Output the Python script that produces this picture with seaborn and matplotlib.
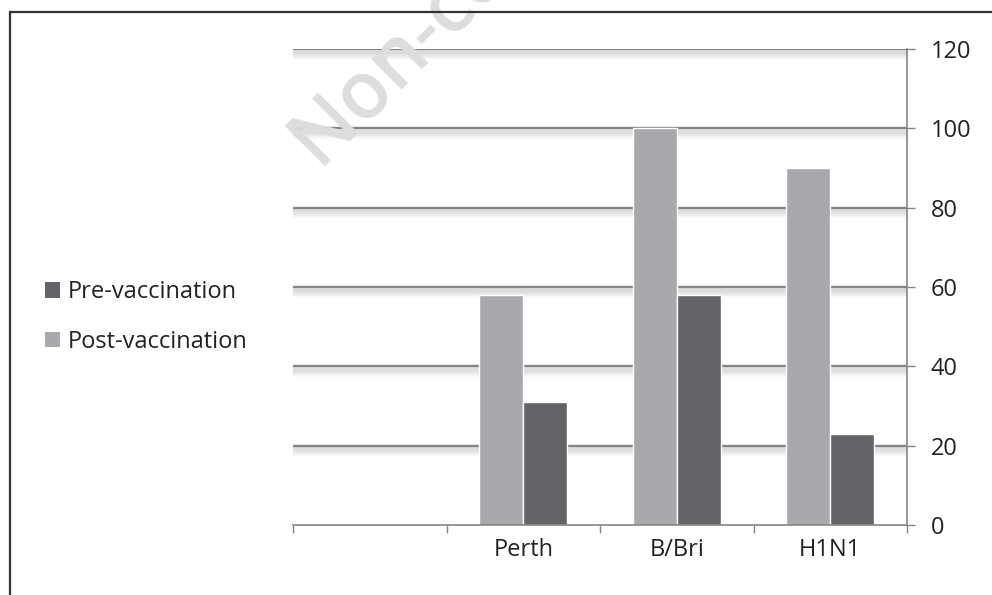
import matplotlib
matplotlib.use("Agg")
import matplotlib.pyplot as plt
import matplotlib.patheffects as pe
from matplotlib.patches import Rectangle, Patch
import numpy as np
import pandas as pd
import seaborn as sns

# Antibody response by strain
categories = ["", "Perth", "B/Bri", "H1N1"]
strains = ["Perth", "B/Bri", "H1N1"]
post_vaccination = [58, 100, 90]
pre_vaccination = [31, 58, 23]
series_names = ["Post-vaccination", "Pre-vaccination"]
legend_order = ["Pre-vaccination", "Post-vaccination"]
y_ticks = [0, 20, 40, 60, 80, 100, 120]

POST_COLOR = "#a8a9ac"
PRE_COLOR = "#636467"
AXIS_GRAY = "#858585"
TEXT_COLOR = "#222222"
FONT_SIZE = 17

sns.set_theme(style="white")
plt.rcParams["font.family"] = ["Open Sans", "DejaVu Sans"]

df = pd.DataFrame({
    "strain": strains * 2,
    "value": post_vaccination + pre_vaccination,
    "series": [series_names[0]] * len(strains) + [series_names[1]] * len(strains),
})

fig = plt.figure(figsize=(9.92, 5.95), dpi=100)

# Watermark behind everything
fig.text(318 / 992, 1 - 166 / 595, "Non-commercial", rotation=45, fontsize=57,
         fontweight="semibold", color="#dddddd", ha="left", va="baseline",
         rotation_mode="anchor", zorder=0)

ax = fig.add_axes([293 / 992, 1 - 525 / 595, 614 / 992, 476 / 595])
ax.patch.set_alpha(0)

sns.barplot(
    data=df, x="strain", y="value", hue="series",
    order=categories, hue_order=series_names,
    palette=[POST_COLOR, PRE_COLOR], width=0.571, gap=0,
    saturation=1, errorbar=None, legend=False, ax=ax, zorder=3,
)

ax.set_xlim(-0.5, len(categories) - 0.5)
ax.set_ylim(0, 120)

# Gridlines with a soft, fading drop shadow underneath
shadow = [pe.SimpleLineShadow(offset=(0, -k), shadow_color="#8f8f8f",
                              alpha=0.11 * (1 - k / 7.5), rho=1, linewidth=2.2)
          for k in np.arange(0.8, 7.0, 0.5)]
for y in y_ticks[1:]:
    ax.axhline(y, color=AXIS_GRAY, lw=1.7, zorder=1,
               path_effects=shadow + [pe.Normal()])

# Value axis on the right
ax.yaxis.tick_right()
ax.set_yticks(y_ticks)
ax.tick_params(axis="y", which="major", direction="out", length=6, width=1,
               color=AXIS_GRAY, labelsize=FONT_SIZE, labelcolor=TEXT_COLOR, pad=11,
               left=False, right=True)

# Category axis: ticks at the boundaries between categories
ax.set_xticks(range(len(categories)))
ax.set_xticklabels(categories)
ax.set_xticks(np.arange(-0.5, len(categories)), minor=True)
ax.tick_params(axis="x", which="major", length=0, labelsize=FONT_SIZE,
               labelcolor=TEXT_COLOR, pad=9)
ax.tick_params(axis="x", which="minor", direction="out", length=6, width=1,
               color=AXIS_GRAY, bottom=True)
ax.set_xlabel("")
ax.set_ylabel("")

for side in ["left", "top"]:
    ax.spines[side].set_visible(False)
for side in ["right", "bottom"]:
    ax.spines[side].set_color(AXIS_GRAY)
    ax.spines[side].set_linewidth(1.2)
    ax.spines[side].set_zorder(4)

# Legend on the left
color_for = {series_names[0]: POST_COLOR, series_names[1]: PRE_COLOR}
handles = [Patch(facecolor=color_for[n], edgecolor="none", label=n) for n in legend_order]
fig.legend(handles=handles, loc="center left", bbox_to_anchor=(45 / 992, 1 - 317 / 595),
           frameon=False, fontsize=FONT_SIZE, handlelength=0.64, handleheight=0.64,
           handletextpad=0.34, labelspacing=1.08, borderpad=0, borderaxespad=0,
           labelcolor=TEXT_COLOR)

# Frame around the chart
fig.patches.append(Rectangle((10 / 992, -0.1), 1.2, 1.1 - 12 / 595,
                             transform=fig.transFigure, fill=False,
                             edgecolor="#333333", lw=1.6, zorder=10))

fig.savefig("out.png", dpi=100)
